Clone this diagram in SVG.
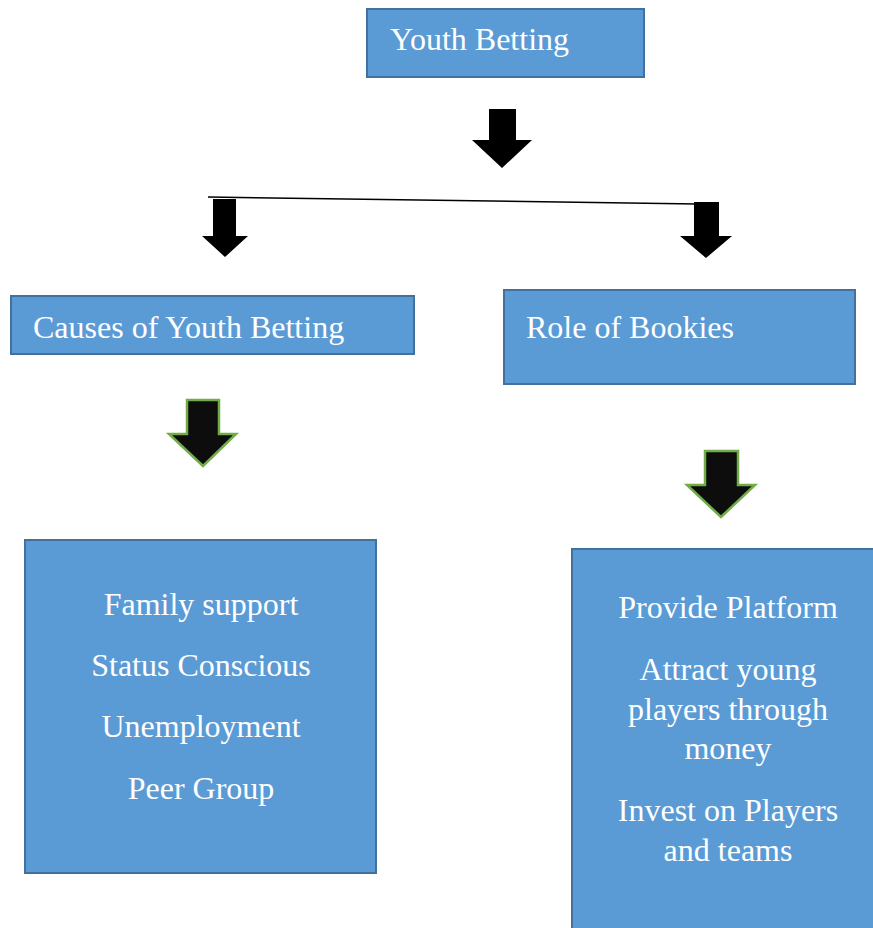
<svg xmlns="http://www.w3.org/2000/svg" width="873" height="928" viewBox="0 0 873 928">
<style>
.box{fill:#5b9bd5;stroke:#41719c;stroke-width:2}
.t{font-family:"Liberation Serif","Times New Roman",serif;font-size:32px;fill:#ffffff}
.c{text-anchor:middle}
.blk{fill:#000000}
.grn{fill:#0d0d0d;stroke:#70ad47;stroke-width:2.5;stroke-linejoin:miter}
</style>
<rect width="873" height="928" fill="#ffffff"/>
<g id="youth-betting">
<rect class="box" x="367" y="9" width="277" height="68"/>
<text class="t" x="390" y="50">Youth Betting</text>
</g>
<g id="causes">
<rect class="box" x="11" y="296" width="403" height="58"/>
<text class="t" x="33" y="338">Causes of Youth Betting</text>
</g>
<g id="bookies">
<rect class="box" x="504" y="290" width="351" height="94"/>
<text class="t" x="526" y="338">Role of Bookies</text>
</g>
<g id="causes-list">
<rect class="box" x="25" y="540" width="351" height="333"/>
<text class="t c" x="201" y="615">Family support</text>
<text class="t c" x="201" y="676">Status Conscious</text>
<text class="t c" x="201" y="737">Unemployment</text>
<text class="t c" x="201" y="799">Peer Group</text>
</g>
<g id="bookies-list">
<rect class="box" x="572" y="549" width="310" height="390"/>
<text class="t c" x="728" y="618">Provide Platform</text>
<text class="t c" x="728" y="680">Attract young</text>
<text class="t c" x="728" y="720">players through</text>
<text class="t c" x="728" y="759">money</text>
<text class="t c" x="728" y="821">Invest on Players</text>
<text class="t c" x="728" y="861">and teams</text>
</g>
<g id="connectors">
<polygon class="blk" points="489,109 516,109 516,140 532,140 502,168 472,140 489,140"/>
<line x1="208" y1="197" x2="697" y2="204" stroke="#000000" stroke-width="1.5"/>
<polygon class="blk" points="213,199 236,199 236,236 248,236 225,257 202,236 213,236"/>
<polygon class="blk" points="694,202 719,202 719,236 732,236 706,258 680,236 694,236"/>
<polygon class="grn" points="187,400 219,400 219,434 236,434 203,466 169,434 187,434"/>
<polygon class="grn" points="705,451 738,451 738,485 755,485 721,517 687,485 705,485"/>
</g>
</svg>
